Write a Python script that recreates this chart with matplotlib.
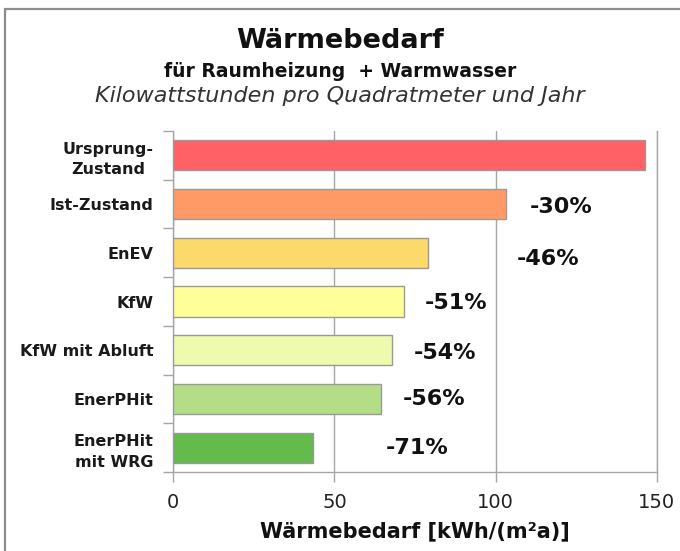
import matplotlib
matplotlib.use("Agg")
import matplotlib.pyplot as plt
from matplotlib.patches import Rectangle

# data
categories = ["Ursprung-\nZustand", "Ist-Zustand", "EnEV", "KfW",
              "KfW mit Abluft", "EnerPHit", "EnerPHit\nmit WRG"]
values = [146.5, 103.1, 79.1, 71.6, 67.8, 64.4, 43.4]
colors = ["#FF6166", "#FF9966", "#FCD96B", "#FFFF99",
          "#EEFBAE", "#B3DE87", "#62BB4A"]
pct_labels = ["", "-30%", "-46%", "-51%", "-54%", "-56%", "-71%"]
pct_x = [0, 120.3, 116.2, 87.7, 84.3, 80.9, 75.6]
pct_dy = [0, 0.07, 0.12, 0.03, 0.06, 0.0, 0.0]
xticks = [0, 50, 100, 150]

plt.rcParams['font.family'] = ['DejaVu Sans']
grey = "#a6a6a6"

fig = plt.figure(figsize=(6.8, 5.51), dpi=100)
ax = fig.add_axes([173.3 / 680, 1 - 472 / 551, (656.7 - 173.3) / 680, (472 - 131) / 551])

# outer frame of the chart area (cut off at right and bottom)
fig.patches.append(Rectangle((5 / 680, -0.1), 1.2, 1 - 9 / 551 + 0.1,
                             transform=fig.transFigure, fill=False,
                             edgecolor="#8c8c8c", linewidth=1.6))

ypos = list(range(len(categories)))
ax.barh(ypos, values, height=0.62, color=colors, edgecolor="#999999",
        linewidth=1.0, zorder=3)

for i, lab in enumerate(pct_labels):
    if lab:
        ax.text(pct_x[i], i + pct_dy[i], lab, ha="center", va="center",
                fontsize=16, fontweight="bold", color="#111111", zorder=4)

ax.set_xlim(0, 150)
ax.set_ylim(len(categories) - 0.5, -0.5)

ax.set_xticks(xticks)
ax.set_xticklabels([str(t) for t in xticks], fontsize=14, color="#222222")
ax.tick_params(axis="x", length=7, width=1, color=grey, pad=8)

# category separators as major ticks, labels on minor ticks
ax.set_yticks([i + 0.5 for i in range(-1, len(categories))])
ax.set_yticklabels([])
ax.set_yticks(ypos, minor=True)
ax.set_yticklabels(categories, minor=True, fontsize=11.5, fontweight="bold",
                   color="#1a1a1a", linespacing=1.45)
for t in ax.get_yticklabels(minor=True):
    t.set_multialignment("center")
ax.tick_params(axis="y", which="major", length=7, width=1, color=grey)
ax.tick_params(axis="y", which="minor", length=0, pad=14)

ax.grid(axis="x", color=grey, linewidth=1, zorder=0)
ax.spines["top"].set_visible(False)
for s in ["left", "bottom", "right"]:
    ax.spines[s].set_color(grey)
    ax.spines[s].set_linewidth(1)

ax.set_xlabel("Wärmebedarf [kWh/(m²a)]", fontsize=15, fontweight="bold",
              color="#111111", labelpad=7)

fig.text(0.5, 1 - 48 / 551, "Wärmebedarf", ha="center", va="baseline",
         fontsize=19.5, fontweight="bold", color="#111111")
fig.text(0.5, 1 - 77 / 551, "für Raumheizung  + Warmwasser", ha="center",
         va="baseline", fontsize=13.5, fontweight="bold", color="#111111")
fig.text(0.5, 1 - 102 / 551, "Kilowattstunden pro Quadratmeter und Jahr",
         ha="center", va="baseline", fontsize=16, style="italic",
         color="#333333")

fig.savefig("out.png", dpi=100)
